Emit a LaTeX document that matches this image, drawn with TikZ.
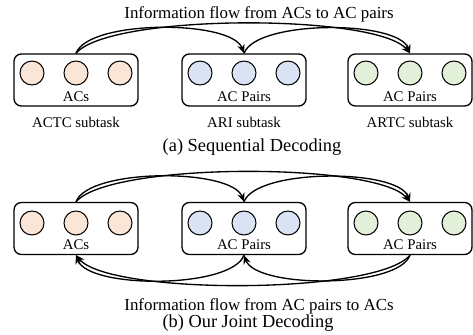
\documentclass[tikz,border=0pt]{standalone}
\usepackage{fontspec}
\setmainfont{Liberation Serif}
\usetikzlibrary{arrows.meta,positioning}
\definecolor{acorange}{HTML}{FBE5D6}
\definecolor{acblue}{HTML}{DAE3F3}
\definecolor{acgreen}{HTML}{E2F0D9}

\begin{document}
\begin{tikzpicture}[x=0.675pt,y=0.675pt,
  tbox/.style={rectangle, rounded corners=5pt, draw, line width=0.9pt,
               minimum width=83.7pt, minimum height=35.1pt, inner sep=0pt},
  unit/.style={circle, draw, line width=0.7pt, minimum size=16.2pt, inner sep=0pt},
  lbl/.style={font=\fontsize{10}{12}\selectfont},
  flow/.style={font=\fontsize{11.4}{13}\selectfont},
  subcap/.style={font=\fontsize{12.4}{14}\selectfont},
  farr/.style={-{Stealth[length=6pt,width=5pt]}, line width=0.9pt}
]
\useasboundingbox (0,0) rectangle (473,334);

% (a) Sequential decoding
\node[tbox] (acA)   at ( 76,254) {};
\node[tbox] (ariA)  at (244,254) {};
\node[tbox] (artcA) at (410,254) {};
\foreach \bx/\col/\nm in {76/acorange/acA,244/acblue/ariA,410/acgreen/artcA}
  \foreach \dx/\k in {-44/1,0/2,44/3}
    \node[unit, fill=\col] (\nm\k) at (\bx+\dx,261) {};
\node[lbl, anchor=south] (acAl)   at (acA.south)   {ACs};
\node[lbl, anchor=south] (ariAl)  at (ariA.south)  {AC Pairs};
\node[lbl, anchor=south] (artcAl) at (artcA.south) {AC Pairs};

\node[lbl] (actcT) at ( 76,212) {ACTC subtask};
\node[lbl] (ariT)  at (244,212) {ARI subtask};
\node[lbl] (artcT) at (410,212) {ARTC subtask};
\node[subcap] (capA)  at (252,187) {(a) Sequential Decoding};
\node[flow] (flowA) at (259,320) {Information flow from ACs to AC pairs};

\draw[farr] (acA.north)  to[out=70,in=110,looseness=0.55] (ariA.north);
\draw[farr] (acA.north)  to[out=50,in=130,looseness=0.4] (artcA.north);
\draw[farr] (ariA.north) to[out=70,in=110,looseness=0.55] (artcA.north);

% (b) Joint decoding
\node[tbox] (acB)   at ( 76,105.5) {};
\node[tbox] (ariB)  at (244,105.5) {};
\node[tbox] (artcB) at (410,105.5) {};
\foreach \bx/\col/\nm in {76/acorange/acB,244/acblue/ariB,410/acgreen/artcB}
  \foreach \dx/\k in {-44/1,0/2,44/3}
    \node[unit, fill=\col] (\nm\k) at (\bx+\dx,111) {};
\node[lbl, anchor=south] (acBl)   at (acB.south)   {ACs};
\node[lbl, anchor=south] (ariBl)  at (ariB.south)  {AC Pairs};
\node[lbl, anchor=south] (artcBl) at (artcB.south) {AC Pairs};

\draw[farr] (acB.north)  to[out=70,in=110,looseness=0.55] (ariB.north);
\draw[farr] (acB.north)  to[out=50,in=130,looseness=0.4] (artcB.north);
\draw[farr] (ariB.north) to[out=70,in=110,looseness=0.55] (artcB.north);

\draw[farr] (artcB.south) to[out=-110,in=-70,looseness=0.55] (ariB.south);
\draw[farr] (artcB.south) to[out=-130,in=-50,looseness=0.4] (acB.south);
\draw[farr] (ariB.south)  to[out=-110,in=-70,looseness=0.55] (acB.south);

\node[flow] (flowB) at (259,28) {Information flow from AC pairs to ACs};
\node[subcap]  (capB)  at (248,11) {(b) Our Joint Decoding};
\end{tikzpicture}
\end{document}
